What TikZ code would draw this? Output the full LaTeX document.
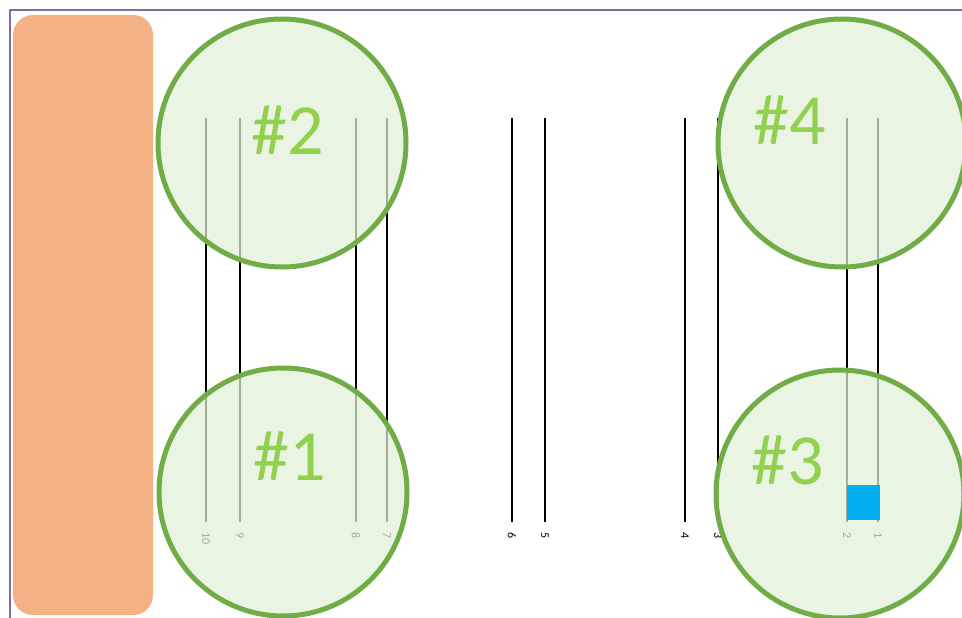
\documentclass[tikz,border=0pt]{standalone}
\usepackage{fontspec}
\setmainfont{Carlito}
\usetikzlibrary{positioning}
\definecolor{frameline}{HTML}{7F6F9A}
\definecolor{padorange}{HTML}{F4B183}
\definecolor{spotgreen}{HTML}{70AD47}
\definecolor{spotfill}{HTML}{E2F0D9}
\definecolor{spottext}{HTML}{92D050}
\definecolor{markblue}{HTML}{00B0F0}
\tikzset{
  spot/.style={circle, draw=spotgreen, line width=5pt, fill=spotfill, fill opacity=0.72, draw opacity=1, minimum size=248pt, inner sep=0pt},
  spotlabel/.style={text=spottext, font=\fontsize{72}{72}\selectfont, inner sep=0pt},
  pinlabel/.style={rotate=-90, font=\fontsize{12}{12}\selectfont, text=black, inner sep=0pt, anchor=west}
}
\begin{document}
\begin{tikzpicture}[x=1pt, y=-1pt]
  \useasboundingbox (0,0) rectangle (962,618);
  \fill[white] (0,0) rectangle (962,618);
  % frame
  \draw[frameline, line width=1.8pt] (10,630) -- (10,10) -- (970,10);
  % orange pad
  \fill[padorange, rounded corners=20pt] (13,15) rectangle (153,615);
  % pins
  \foreach \px/\num in {206/10, 240/9, 356/8, 387/7, 512/6, 545/5, 685/4, 718/3, 847/2, 878/1} {
    \draw[black, line width=1.4pt] (\px,118) -- (\px,522);
    \node[pinlabel] (pin\num) at (\px,532) {\num};
  }
  % spots
  \node[spot] (spot2) at (282,143) {};
  \node[spot] (spot1) at (283,492) {};
  \node[spot] (spot4) at (842,143) {};
  \node[spot] (spot3) at (840,494) {};
  \node[spotlabel] (lab2) at (288,130) {\#2};
  \node[spotlabel] (lab1) at (290,456) {\#1};
  \node[spotlabel] (lab4) at (790,120) {\#4};
  \node[spotlabel] (lab3) at (788,460) {\#3};
  % blue marker
  \fill[markblue] (847,485) rectangle (880,520);
\end{tikzpicture}
\end{document}
